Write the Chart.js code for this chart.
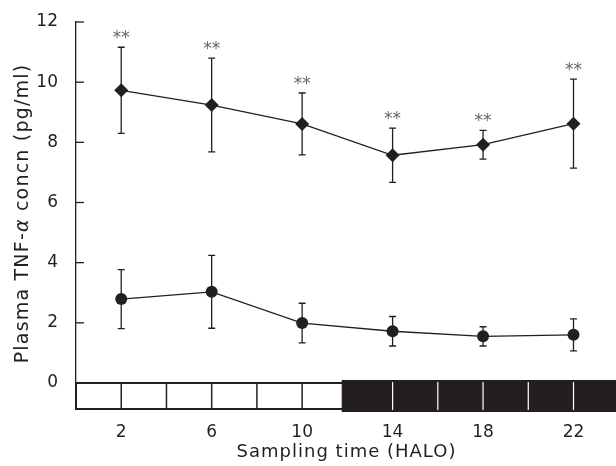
<!DOCTYPE html>
<html>
<head>
<meta charset="utf-8">
<script src="https://cdn.jsdelivr.net/npm/chart.js@4/dist/chart.umd.min.js"></script>
<style>
  html, body { margin: 0; padding: 0; background: #fff; }
  #wrap { width: 616px; height: 466px; }
</style>
</head>
<body>
<div id="wrap"><canvas id="tnfChart"></canvas></div>
<script>
// sampling times (hours after lights on)
const hours = [2, 6, 10, 14, 18, 22];

// diamonds (upper series) and their error bars
const seriesA = [9.73, 9.24, 8.61, 7.57, 7.92, 8.62];
const errA = [1.43, 1.56, 1.03, 0.90, 0.48, 1.48];
const sigA = ['**', '**', '**', '**', '**', '**'];

// circles (lower series)
const seriesB = [2.79, 3.03, 1.99, 1.72, 1.55, 1.60];
const errB = [0.98, 1.21, 0.66, 0.49, 0.32, 0.53];

// axis ticks
const xTicks = [2, 6, 10, 14, 18, 22];
const yTicks = [0, 2, 4, 6, 8, 10, 12];

// light / dark bar under the plot
const lightPeriod = [0, 12];
const darkPeriod = [11.75, 24];
const stripLines = [2, 4, 6, 8, 10, 12, 14, 16, 18, 20, 22];

const xTitle = 'Sampling time (HALO)';
const yTitle = ['Plasma TNF-', 'α', ' concn (pg/ml)'];

const ink = '#231f20';
const font = "'DejaVu Sans', sans-serif";

function toPoints(ys) {
    return hours.map((h, i) => ({ x: h, y: ys[i] }));
}

// error bars, asterisks, light/dark strip, titles
const errorBars = {
    id: 'errorBars',
    beforeDatasetsDraw(chart) {
        const ctx = chart.ctx;
        const xs = chart.scales.x, ys = chart.scales.y;
        ctx.save();
        ctx.strokeStyle = ink;
        ctx.lineWidth = 1.3;
        [[seriesA, errA], [seriesB, errB]].forEach(([vals, errs]) => {
            vals.forEach((v, i) => {
                const px = xs.getPixelForValue(hours[i]);
                const top = ys.getPixelForValue(v + errs[i]);
                const bot = ys.getPixelForValue(v - errs[i]);
                ctx.beginPath();
                ctx.moveTo(px, top); ctx.lineTo(px, bot);
                ctx.moveTo(px - 3.5, top); ctx.lineTo(px + 3.5, top);
                ctx.moveTo(px - 3.5, bot); ctx.lineTo(px + 3.5, bot);
                ctx.stroke();
            });
        });
        ctx.fillStyle = '#666';
        ctx.font = '17px ' + font;
        ctx.textAlign = 'center';
        ctx.textBaseline = 'alphabetic';
        sigA.forEach((s, i) => {
            const px = xs.getPixelForValue(hours[i]);
            const top = ys.getPixelForValue(seriesA[i] + errA[i]);
            ctx.fillText(s, px, top - 4);
        });
        ctx.restore();
    },
    afterDraw(chart) {
        const ctx = chart.ctx;
        const xs = chart.scales.x, ys = chart.scales.y;
        const area = chart.chartArea;
        const y0 = ys.getPixelForValue(0);
        const yb = area.bottom;
        ctx.save();
        // inward y ticks
        ctx.strokeStyle = ink;
        ctx.lineWidth = 1.3;
        yTicks.forEach(t => {
            const py = ys.getPixelForValue(t);
            ctx.beginPath();
            ctx.moveTo(area.left, py); ctx.lineTo(area.left + 8, py);
            ctx.stroke();
        });
        // light period
        const lx0 = xs.getPixelForValue(lightPeriod[0]);
        const lx1 = xs.getPixelForValue(lightPeriod[1]);
        ctx.fillStyle = '#fff';
        ctx.fillRect(lx0, y0, lx1 - lx0, yb - y0);
        ctx.lineWidth = 2;
        ctx.strokeRect(lx0, y0, lx1 - lx0, yb - y0);
        ctx.lineWidth = 1.5;
        stripLines.filter(h => h < lightPeriod[1]).forEach(h => {
            const px = xs.getPixelForValue(h);
            ctx.beginPath();
            ctx.moveTo(px, y0); ctx.lineTo(px, yb);
            ctx.stroke();
        });
        // dark period
        const dx0 = xs.getPixelForValue(darkPeriod[0]);
        const dx1 = xs.getPixelForValue(darkPeriod[1]);
        ctx.fillStyle = ink;
        ctx.fillRect(dx0, y0 - 3, dx1 - dx0, yb - y0 + 6);
        ctx.strokeStyle = '#fff';
        ctx.lineWidth = 1.2;
        stripLines.filter(h => h > lightPeriod[1]).forEach(h => {
            const px = xs.getPixelForValue(h);
            ctx.beginPath();
            ctx.moveTo(px, y0 - 1); ctx.lineTo(px, yb + 1);
            ctx.stroke();
        });

        // axis titles (wide lettering, italic alpha)
        ctx.fillStyle = ink;
        ctx.textBaseline = 'alphabetic';
        ctx.letterSpacing = '1px';
        ctx.font = '18px ' + font;
        ctx.textAlign = 'center';
        ctx.fillText(xTitle, (area.left + area.right) / 2 + 4, 457);

        ctx.letterSpacing = '1.2px';
        ctx.textAlign = 'left';
        const fonts = ['19px ' + font, 'italic 19px ' + font, '19px ' + font];
        let total = 0;
        yTitle.forEach((part, i) => { ctx.font = fonts[i]; total += ctx.measureText(part).width; });
        ctx.translate(28, (area.top + area.bottom) / 2 - 2);
        ctx.rotate(-Math.PI / 2);
        let cx = -total / 2;
        yTitle.forEach((part, i) => {
            ctx.font = fonts[i];
            ctx.fillText(part, cx, 0);
            cx += ctx.measureText(part).width;
        });
        ctx.restore();
    }
};

new Chart(document.getElementById('tnfChart'), {
    type: 'line',
    data: {
        datasets: [{
            data: toPoints(seriesA),
            borderColor: ink,
            backgroundColor: ink,
            borderWidth: 1.3,
            pointStyle: 'rectRot',
            pointRadius: 7,
            pointBorderWidth: 0,
            tension: 0
        }, {
            data: toPoints(seriesB),
            borderColor: ink,
            backgroundColor: ink,
            borderWidth: 1.3,
            pointStyle: 'circle',
            pointRadius: 6,
            pointBorderWidth: 0,
            tension: 0
        }]
    },
    options: {
        responsive: true,
        maintainAspectRatio: false,
        animation: false,
        layout: { padding: { top: 22, left: 0, right: 0, bottom: 0 } },
        plugins: {
            legend: { display: false },
            tooltip: { enabled: false }
        },
        scales: {
            x: {
                type: 'linear',
                min: 0,
                max: 23.57,
                afterBuildTicks: s => { s.ticks = xTicks.map(v => ({ value: v })); },
                afterFit: s => { s.height = 57; },
                grid: { display: false },
                border: { display: false },
                ticks: { padding: 5, color: ink, font: { family: font, size: 17 } }
            },
            y: {
                min: -0.865,
                max: 12,
                afterBuildTicks: s => { s.ticks = yTicks.map(v => ({ value: v })); },
                afterFit: s => { s.width = 76; },
                grid: { display: false },
                border: { display: true, color: ink, width: 1.3 },
                ticks: { padding: 10, color: ink, font: { family: font, size: 17 } }
            }
        }
    },
    plugins: [errorBars]
});
</script>
</body>
</html>
